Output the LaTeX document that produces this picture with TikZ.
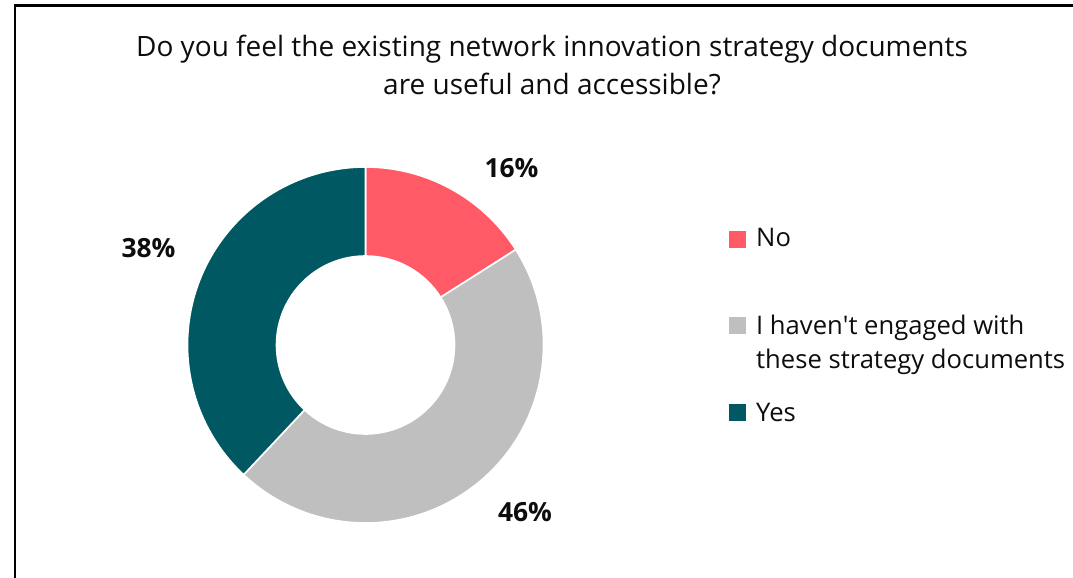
\documentclass[tikz,border=0pt]{standalone}
\usepackage{fontspec}
\setmainfont{Open Sans}
\usetikzlibrary{calc}
\definecolor{nocol}{RGB}{255,90,102}
\definecolor{grycol}{RGB}{191,191,191}
\definecolor{yescol}{RGB}{0,89,98}
\definecolor{txt}{RGB}{13,13,13}
\tikzset{
  slice/.style={draw=white,line width=1.6bp,line join=miter},
  title/.style={font=\fontsize{28.1}{34}\selectfont,text=txt,inner sep=0,anchor=base},
  pct/.style={font=\fontsize{26.5}{34}\selectfont\bfseries,text=txt,inner sep=0,anchor=center},
  legtext/.style={font=\fontsize{25.7}{30}\selectfont,text=txt,inner sep=0,anchor=base west},
  legbox/.style={minimum size=17bp,inner sep=0,draw=none}
}
\begin{document}
\begin{tikzpicture}[x=1bp,y=1bp]
\useasboundingbox (0,0) rectangle (1073,578);
% frame
\coordinate (fbl) at (15,0);
\coordinate (ftl) at (15,572.7);
\coordinate (ftr) at (1073,572.7);
\draw[line width=2.6bp,black] (fbl) -- (ftl) -- (ftr);
% title
\node[title] (t1) at (552,521) {Do you feel the existing network innovation strategy documents};
\node[title] (t2) at (552,483) {are useful and accessible?};
% donut
\coordinate (c) at (365.5,233);
\def\R{178}\def\r{89}
\fill[nocol,slice] ($(c)+(90:\R)$) arc[start angle=90,end angle=32.4,radius=\R] -- ($(c)+(32.4:\r)$) arc[start angle=32.4,end angle=90,radius=\r] -- cycle;
\fill[grycol,slice] ($(c)+(32.4:\R)$) arc[start angle=32.4,end angle=-133.2,radius=\R] -- ($(c)+(-133.2:\r)$) arc[start angle=-133.2,end angle=32.4,radius=\r] -- cycle;
\fill[yescol,slice] ($(c)+(-133.2:\R)$) arc[start angle=-133.2,end angle=-270,radius=\R] -- ($(c)+(-270:\r)$) arc[start angle=-270,end angle=-133.2,radius=\r] -- cycle;
% labels
\node[pct] (p16) at (511.5,410) {16\%};
\node[pct] (p46) at (525,66) {46\%};
\node[pct] (p38) at (148.5,330) {38\%};
% legend
\node[legbox,fill=nocol] (b1) at (737.5,338) {};
\node[legbox,fill=grycol] (b2) at (737.5,252) {};
\node[legbox,fill=yescol] (b3) at (737.5,165.5) {};
\node[legtext] (l1) at (756,331) {No};
\node[legtext] (l2a) at (756,243) {I haven\textquotesingle t engaged with};
\node[legtext] (l2b) at (756,209) {these strategy documents};
\node[legtext] (l3) at (756,156) {Yes};
\end{tikzpicture}
\end{document}
